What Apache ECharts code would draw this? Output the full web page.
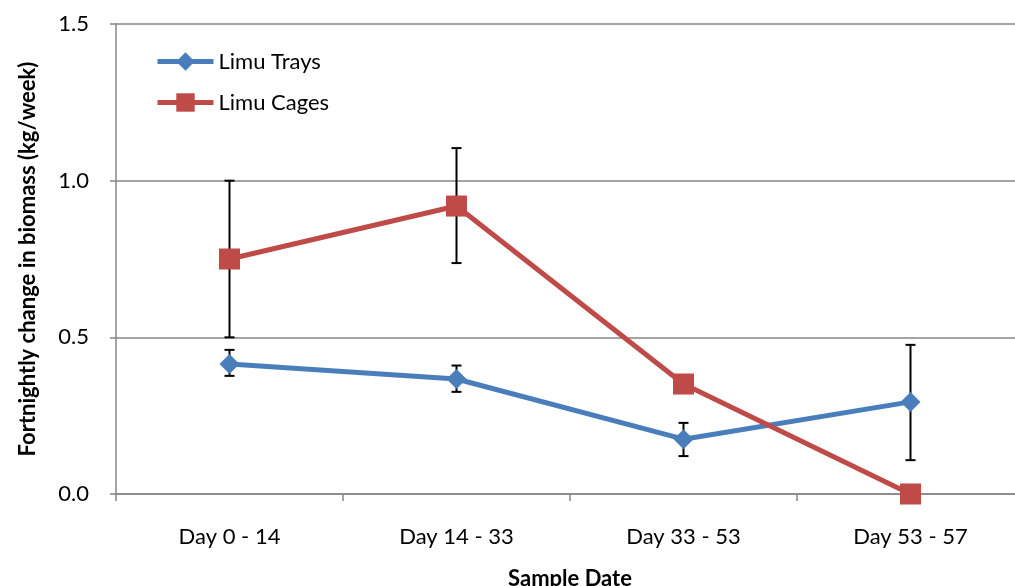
<!DOCTYPE html>
<html>
<head>
<meta charset="utf-8">
<script src="https://cdn.jsdelivr.net/npm/echarts@6/dist/echarts.min.js"></script>
<style>
  html, body { margin: 0; padding: 0; background: #fff; }
  #chart { width: 1015px; height: 586px; }
</style>
</head>
<body>
<div id="chart"></div>
<script>
// Sample periods and fortnightly biomass change (kg/week)
const categories = ['Day 0 - 14', 'Day 14 - 33', 'Day 33 - 53', 'Day 53 - 57'];
const yTicks = [0, 0.5, 1.0, 1.5];

const traysMean = [0.415, 0.367, 0.175, 0.294];
const traysLow  = [0.377, 0.326, 0.121, 0.108];
const traysHigh = [0.460, 0.410, 0.227, 0.476];

const cagesMean = [0.750, 0.919, 0.351, 0.000];
const cagesLow  = [0.500, 0.737, 0.351, 0.000];
const cagesHigh = [1.000, 1.104, 0.351, 0.000];

const FONT = 'Lato, "Open Sans", sans-serif';
const BLUE = '#4A7EBB';
const RED = '#BE4B48';

function errorData(low, high) {
  return categories.map((c, i) => [i, low[i], high[i]]);
}

// Vertical whisker with caps at both ends
function renderErrorBar(params, api) {
  const x = api.value(0);
  const lo = api.coord([x, api.value(1)]);
  const hi = api.coord([x, api.value(2)]);
  const cap = 5;
  const style = { stroke: '#000', lineWidth: 2 };
  if (Math.abs(lo[1] - hi[1]) < 1) return null;
  return {
    type: 'group',
    children: [
      { type: 'line', shape: { x1: lo[0], y1: lo[1], x2: hi[0], y2: hi[1] }, style },
      { type: 'line', shape: { x1: lo[0] - cap, y1: lo[1], x2: lo[0] + cap, y2: lo[1] }, style },
      { type: 'line', shape: { x1: hi[0] - cap, y1: hi[1], x2: hi[0] + cap, y2: hi[1] }, style }
    ]
  };
}

const chart = echarts.init(document.getElementById('chart'));
chart.setOption({
  animation: false,
  backgroundColor: '#fff',
  grid: { left: 116, top: 24, bottom: 92, right: -9, containLabel: false, outerBoundsMode: 'none' },
  legend: {
    orient: 'vertical',
    left: 155,
    top: 50,
    padding: 0,
    itemWidth: 56,
    itemHeight: 23,
    itemGap: 18,
    data: ['Limu Trays', 'Limu Cages'],
    lineStyle: { width: 5 },
    textStyle: { fontFamily: FONT, fontSize: 22, color: '#000', lineHeight: 23 }
  },
  xAxis: {
    type: 'category',
    data: categories,
    boundaryGap: true,
    axisLine: { lineStyle: { color: '#868686', width: 1.5 } },
    axisTick: { show: true, length: 7, lineStyle: { color: '#868686', width: 1.5 } },
    axisLabel: { fontFamily: FONT, fontSize: 22, color: '#000', margin: 32 },
    name: 'Sample Date',
    nameLocation: 'middle',
    nameGap: 74,
    nameTextStyle: { fontFamily: FONT, fontSize: 22, fontWeight: 'bold', color: '#000' }
  },
  yAxis: {
    type: 'value',
    min: yTicks[0],
    max: yTicks[yTicks.length - 1],
    interval: 0.5,
    axisLine: { show: true, lineStyle: { color: '#868686', width: 1.5 } },
    axisTick: { show: true, length: 6, lineStyle: { color: '#868686', width: 1.5 } },
    axisLabel: {
      fontFamily: FONT, fontSize: 22, color: '#000', margin: 27,
      formatter: v => v.toFixed(1)
    },
    splitLine: { lineStyle: { color: '#868686', width: 1.5 } },
    name: 'Fortnightly change in biomass (kg/week)',
    nameLocation: 'middle',
    nameGap: 77,
    nameTextStyle: { fontFamily: FONT, fontSize: 22, fontWeight: 'bold', color: '#000' }
  },
  series: [
    {
      name: 'Limu Trays',
      type: 'line',
      data: traysMean,
      z: 3,
      symbol: 'diamond',
      symbolSize: 20,
      color: BLUE,
      lineStyle: { color: BLUE, width: 5 },
      itemStyle: { color: BLUE }
    },
    {
      name: 'Limu Cages',
      type: 'line',
      data: cagesMean,
      z: 4,
      symbol: 'rect',
      symbolSize: 21,
      color: RED,
      lineStyle: { color: RED, width: 5 },
      itemStyle: { color: RED }
    },
    {
      name: 'traysErr',
      type: 'custom',
      z: 2,
      renderItem: renderErrorBar,
      data: errorData(traysLow, traysHigh),
      encode: { x: 0, y: [1, 2] },
      silent: true
    },
    {
      name: 'cagesErr',
      type: 'custom',
      z: 2,
      renderItem: renderErrorBar,
      data: errorData(cagesLow, cagesHigh),
      encode: { x: 0, y: [1, 2] },
      silent: true
    }
  ]
});
</script>
</body>
</html>
